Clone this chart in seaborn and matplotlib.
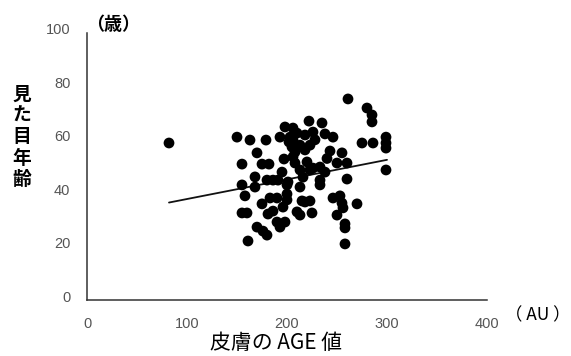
import numpy as np
import pandas as pd
import matplotlib
matplotlib.use('Agg')
import matplotlib.pyplot as plt
import matplotlib.transforms as mtransforms
import seaborn as sns

# ---------------------------------------------------------
# data
# ---------------------------------------------------------
age_value = [82, 150, 163, 179, 193, 198, 222, 235, 203, 206, 210, 226, 238, 246,
             170, 155, 175, 182, 197, 206, 208, 213, 220, 223, 218, 205, 202, 208,
             195, 168, 168, 155, 180, 186, 191, 200, 213, 158, 183, 190, 200, 200,
             175, 196, 215, 223, 155, 160, 181, 186, 210, 213, 225, 190, 193, 198,
             170, 180, 161, 261, 243, 255, 233, 226, 250, 260, 238, 233, 233, 201,
             260, 246, 253, 255, 218, 250, 270, 256, 258, 258, 258, 280, 285, 285,
             275, 286, 299, 299, 299, 299, 206, 213, 223, 228, 218, 176, 216, 240]
looks_age = [58.8, 61.0, 59.9, 59.9, 61.0, 64.8, 67.0, 66.3, 61.0, 59.9, 62.5, 62.9, 62.2, 61.0,
             55.1, 50.9, 50.9, 50.9, 52.8, 53.6, 51.3, 48.7, 51.7, 48.7, 56.2, 57.3, 59.2, 55.4,
             47.9, 46.1, 42.3, 43.1, 44.9, 44.9, 44.9, 43.1, 42.3, 39.0, 38.2, 38.2, 39.7, 37.5,
             36.0, 34.8, 37.1, 37.1, 32.6, 32.6, 32.2, 33.3, 33.0, 31.8, 32.6, 29.2, 27.3, 29.2,
             27.3, 24.3, 22.1, 75.3, 55.8, 55.1, 49.8, 49.4, 51.3, 51.3, 47.9, 44.9, 43.1, 44.2,
             45.3, 38.2, 39.0, 36.3, 36.7, 31.8, 36.0, 34.5, 28.5, 27.0, 21.0, 71.9, 69.3, 66.7,
             58.8, 58.8, 61.0, 58.8, 56.9, 48.7, 64.4, 58.0, 58.0, 60.0, 61.8, 25.8, 46.0, 53.0]

# regression line end points
trend_x = [82, 300]
trend_y = [36.5, 52.5]

x_ticks = [0, 100, 200, 300, 400]
y_ticks = [0, 20, 40, 60, 80, 100]

df = pd.DataFrame({'age': age_value, 'looks': looks_age})
trend = pd.DataFrame({'age': trend_x, 'looks': trend_y})

# ---------------------------------------------------------
# plot
# ---------------------------------------------------------
sns.set_theme(style='white')
plt.rcParams['font.family'] = ['Liberation Sans', 'Noto Sans CJK JP', 'DejaVu Sans']
cjk = ['Noto Sans CJK JP', 'DejaVu Sans']

fig = plt.figure(figsize=(5.71, 3.56), dpi=100)
ax = fig.add_axes([87 / 571, 56 / 356, 400 / 571, 267 / 356])

sns.scatterplot(data=df, x='age', y='looks', ax=ax, color='black', s=60,
                edgecolor='none', linewidth=0, zorder=3)
sns.lineplot(data=trend, x='age', y='looks', ax=ax, color='#111111', linewidth=1.3, zorder=2)

ax.set_xlim(0, 400)
ax.set_ylim(0, 100)
ax.set_xticks(x_ticks)
ax.set_yticks(y_ticks)
ax.set_xlabel('')
ax.set_ylabel('')

for side in ['top', 'right']:
    ax.spines[side].set_visible(False)
for side in ['left', 'bottom']:
    ax.spines[side].set_color('#333333')
    ax.spines[side].set_linewidth(1.1)

ax.tick_params(axis='both', direction='in', length=5, width=1.0, color='#333333',
               labelsize=10.5, labelcolor='#555555')
ax.tick_params(axis='x', pad=12)
ax.tick_params(axis='y', pad=12)

# y tick labels sit slightly above their ticks in the reference
shift = mtransforms.ScaledTranslation(0, 4 / 100, fig.dpi_scale_trans)
for lab in ax.get_yticklabels():
    lab.set_transform(lab.get_transform() + shift)

# axis titles
fig.text(276 / 571, 1 - 343 / 356, '皮膚の AGE 値', family=cjk, fontsize=15,
         ha='center', va='center', color='black')
fig.text(22 / 571, 1 - 137 / 356, '見\nた\n目\n年\n齢', family=cjk, fontsize=13.5,
         fontweight='bold', ha='center', va='center', linespacing=1.16, color='black')
fig.text(86 / 571, 1 - 25 / 356, '（歳）', family=cjk, fontsize=13,
         fontweight='bold', ha='left', va='center', color='black')
fig.text(505 / 571, 1 - 315 / 356, '（ AU ）', family=cjk, fontsize=12.5,
         ha='left', va='center', color='black')

fig.savefig('out.png', dpi=100)
